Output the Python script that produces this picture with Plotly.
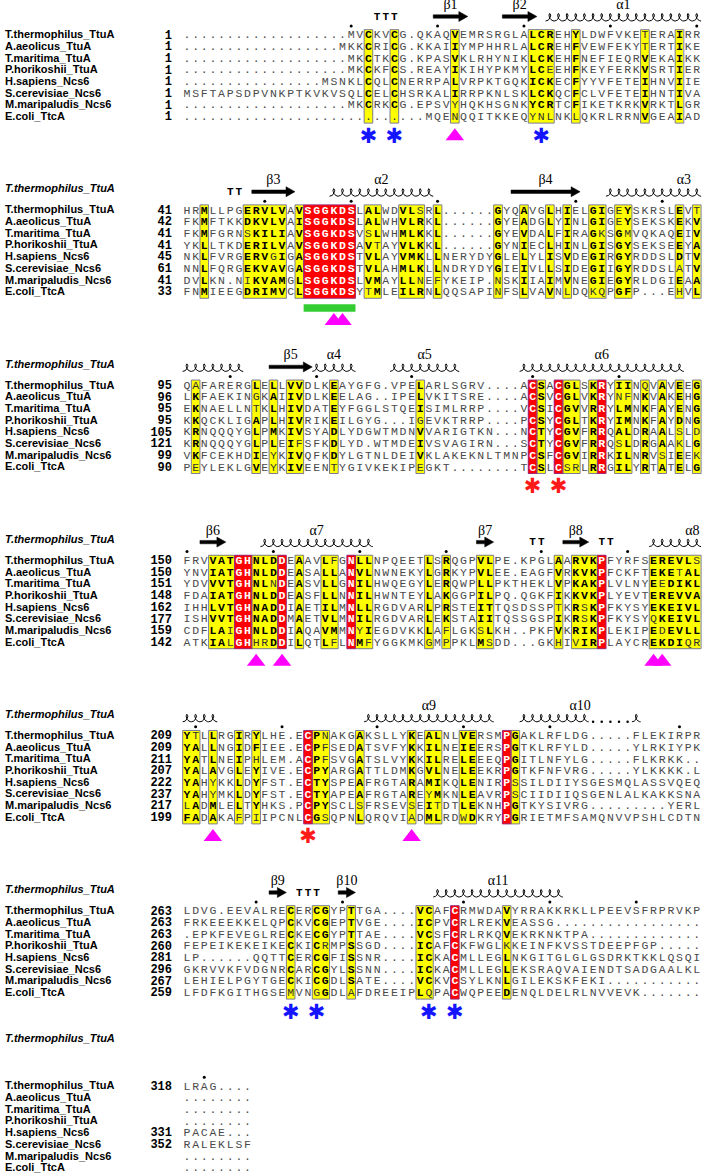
import math
import plotly.graph_objects as go

# ---- alignment data (lowercase = residue drawn in plain type inside a highlighted column)
NAMES = ["T.thermophilus_TtuA", "A.aeolicus_TtuA", "T.maritima_TtuA", "P.horikoshii_TtuA",
         "H.sapiens_Ncs6", "S.cerevisiae_Ncs6", "M.maripaludis_Ncs6", "E.coli_TtcA"]

B1_SEQ = [
    "." * 19 + "MVCKVCG.QKAQVEMRSRGLALCREHYLDWFVKEtERAIRR",
    "." * 18 + "MKKCRICG.KKAIIYMPHHRLALCREHFVEWFEKYtERTIKE",
    "." * 19 + "MKCTKCG.KPASVKLRHYNIKLCKEHFNEFIEQRVEKAIKK",
    "." * 19 + "MKCKFCS.REAYIKIHYPKMYLCeEHFKEYFERKVSRTIER",
    "." * 16 + "MSNKLCQLCNERRPALVRPKTGQKICKECFYYVFETEIHNVIIE",
    "MSFTAPSDPVNKPTKVKVSQLCELCHSRKALIRRPKNLSKLCKQCFCLVFETEIHNTIVA",
    "." * 19 + "MKCRKCG.EPSVyHQKHSGNKYCRTCFIKETKRKVRKTLGR",
    "." * 28 + "MQEnQQITKKEQynlNKlQKRLRRNVGEAIAD",
]
B1_YELLOW = [22, 25, 32, 41, 42, 43, 46, 54, 58]
B1_RED = []

B2_SEQ = [
    "HRMLLPGERVLVAVSGGKDSLALWDVLsRL......GYQAVGLHIELGIGeYSKRSLEVt",
    "FKMFTKKDKVLVAISGGKDSLALWHVLRKL......GYEADGLYINLGIGeYSEKSKEKV",
    "FKMFGRNsKILIAVSGGKDSVsLWHMLKKL......GYEVDALFIRAGkSGmVQKAQEIV",
    "YKLLTKDERILVAVSGGKDSAVtAYVLKKL......GYNIECLHINLGISGYSEKSEEYA",
    "NKLFVRGERVgIGASGGKDSTVLAYVMKLLNERYDYGLELYLISVDEGIRGYRDDSLDTV",
    "NNLFQRGEKVAVGASGGKDSTVLAHMLKLLNDRYDYGIEIVLLSIDEGIIGYRDDSLaTV",
    "DVLKN.NiKVAMGLSGGKDSLVMAYLLnEfYKEIP.nSKIIAIMVNEGIEGYRLDGIEAA",
    "FNMIEEGDRIMVCLSGGKDSYtMLEILRNLQQSAPInFSLVAVNlDQkqPGFP...EhVL",
]
B2_YELLOW = [3, 8, 9, 10, 11, 12, 14, 22, 23, 26, 27, 28, 30, 37, 40, 43, 45, 48, 49, 51, 52, 58, 60]
B2_RED = [15, 16, 17, 18, 19, 20]

B3_SEQ = [
    "QaFARERGLELLVVDLKEAYGFG.VPELARLSGRV....ACSACGLSKRYIINqVAVEEG",
    "LKFAEKINgKAIIVDLKEELAG..IPELVKITSRE....ACSVCGLVKRYnfNKVAKEHG",
    "EKNAELLNtKLHIVDATEYFGGLSTQEISIMLRRP....VCSICGVVRRYLMNKFAYENG",
    "KKQCKLIGAPLHIVRIKEILGYG...IgEVKTRRP....PCSYCGLTKRYIMNKFAYDNG",
    "KRNQQQYGLPMKIVSYADLYDGWTMDNVVARIGTKN...NCTYCGVFRRQALDRAALsLd",
    "KRNQQQYGLPLEIfSFKDLYD.WTMDEIVSVAGIRN...SCTYCGVFRRQsLDRGAAkLG",
    "VKFCEKHDIEyKIVQFKDYLGTNLDEIVKLAKEKNLTMNPCSFCGVIRRKILNRVsIEEk",
    "PeYLEKLGVEyKIVEENtYGIVKEKIPeGKT........TCSLCsrLRRGILYRTATELG",
]
B3_YELLOW = [2, 9, 11, 13, 14, 18, 28, 42, 45, 46, 48, 51, 52, 54, 56, 58, 60]
B3_RED = [41, 44, 49]

B4_SEQ = [
    "FRVVATGHNLDDEAAVLfGNLLNPQEETLSRQGPVLPE.KPGLAARVKPFYRFSEREVLs",
    "YNVIATGHNLDDEASALLANVLNWNEKYLGRKYPVLEE.EAGFVRKVKPFCKFTEKEtAL",
    "YDVVVTGHNLnDEASVLLGNILHWQEGYLERQWPLLPKTHEKLVPKAKPLVLNYEeDIKL",
    "FDAIATGHNLDDEASFLLNNILHWNTEYLAKGGPILPQ.QGKFIKKVKPLYEVTEREVVA",
    "IHHLVTGHNADDIAETILMNLLRGDVARLPRSTEITTQSDSSPtKRsKPFKYSYEKEIVL",
    "ISHVVTGHNADDMAETVLMNILRGDVARLEKSTAIITQSSGSPIKRsKPFKYSYqKEIVL",
    "CDFLAiGHNLDDIAQAVMMNyIEGDVKKLAfLGKsLKH..PKFVKRIKPLEKIPEdEVLL",
    "ATKIAlGHhrDDILQTLfLNMfYGGKMKgMpPKLMsDD...GKhIvIRPLAYCREKDIqr",
]
B4_YELLOW = [4, 5, 6, 9, 10, 11, 14, 17, 18, 21, 22, 29, 31, 35, 36, 44, 46, 47, 48, 55, 56, 57, 58, 59, 60]
B4_RED = [7, 8, 12, 20, 49]

B5_SEQ = [
    "YtLLRGIRYLHE.ECPnAKGAKSLLYKEALNLVERSMPGAKLRFLDG.....FLEKIRPR",
    "YALLNGIDFIEE.ECPfSEDATSVFYKKILNEIEERSPGTKLRFYLD.....YLRKIYPK",
    "YATLNEIPhLEM.ACPfSVGATSLVYKKILRELEEEQPGITLNFYLG.....FLKRKK..",
    "YALAVGLEYIVE.ECPYARGATTLDMKGVLNELEEKRPGTKFNFVRG.....YLKKKK.L",
    "YAHyKKLDYFST.ECTYSPEAFRGTARAMIKQLENIRPsSILDIIYSGESMQLASSVQEQ",
    "YAHyMKLDYFST.ECTYAPEAFRGTAREyMKNLEAVRPsCIIDIIQSGENLALKAKKSNA",
    "lADMLELTYHKS.PCPYSCLsFRSEVsEItDTLEKNHPGTKYSIVRG.........YERL",
    "FADAKAfPiIPCNLCGsQPNLQRQVIaDMLRDwDKRYPGRIETMFSAMQNVVPSHLCDTN",
]
B5_YELLOW = [1, 2, 4, 7, 9, 16, 17, 21, 27, 29, 30, 33, 34, 39]
B5_RED = [15, 38]

B6_SEQ = [
    "LDVG.EEVALRECERCGYPTTGA....VCAFCRMWDAVYRRAKKRKLLPEEVSFRPRVKP",
    "FRKEEEKKELQPCKVCGEPTVGE....ICPVCRLREKVEASSG" + "." * 17,
    ".EPKFEVEGLRECKECGYPTTAE....VCSFCRLRKQVEKRKNKTPA" + "." * 13,
    "FEPEIKEKEIKECKICrMPSSGD....ICAFCKFWGLkKEINFKVSSTDEEPFGP.....",
    "LP......QQTTCERCGFISSNR....ICKACMLLEGLNKGITGLGLGSDRKTKKLQSQI",
    "GKRVVKFVDGNRCARCGYLSSNN....ICKACMLLEGLEKSRAQVAIENDTSADGAALKL",
    "LEHIELPGYTGECKICGDLSATE....VCKVCSYLKNLGILEKSKFEKI" + "." * 11,
    "LFDFKGITHGSEmVNgGDLaFDREEIPLqPACWQPEEDENQLDELRLNVVEVK.......",
]
B6_YELLOW = [13, 16, 17, 20, 28, 29, 38]
B6_RED = [32]

B7_SEQ = ["LRAG....", "........", "........", "........",
          "PACAE...", "RALEKLSF", "........", "........"]
B7_YELLOW = []
B7_RED = []

SEQ_BLOCKS = [B1_SEQ, B2_SEQ, B3_SEQ, B4_SEQ, B5_SEQ, B6_SEQ, B7_SEQ]
YELLOW_COLS = [B1_YELLOW, B2_YELLOW, B3_YELLOW, B4_YELLOW, B5_YELLOW, B6_YELLOW, B7_YELLOW]
RED_COLS = [B1_RED, B2_RED, B3_RED, B4_RED, B5_RED, B6_RED, B7_RED]

# secondary structure of T.thermophilus TtuA (block index, first column, last column)
STRANDS = [("β1", 0, 30, 33), ("β2", 0, 38, 41), ("β3", 1, 9, 13), ("β4", 1, 39, 46),
           ("β5", 2, 11, 15), ("β6", 3, 3, 5), ("β7", 3, 35, 36), ("β8", 3, 45, 47),
           ("β9", 5, 11, 12), ("β10", 5, 19, 20)]
HELICES = [("α1", [(0, 43, 60)]), ("α2", [(1, 18, 29)]), ("α3", [(1, 50, 60), (2, 1, 7)]),
           ("α4", [(2, 16, 20)]), ("α5", [(2, 25, 32)]), ("α6", [(2, 40, 58)]),
           ("α7", [(3, 10, 22)]), ("α8", [(3, 55, 60), (4, 1, 4)]), ("α9", [(4, 22, 36)]),
           ("α10", [(4, 40, 53)]), ("α11", [(5, 30, 44)])]
TURNS = [(0, [23, 24, 25]), (1, [6, 7]), (3, [41, 42]), (3, [49, 50]), (5, [14, 15, 16])]

# marks under the alignment (block, column)
BLUE_STARS = [(0, 22), (0, 25), (0, 42), (5, 13), (5, 16), (5, 29), (5, 32)]
RED_STARS = [(2, 41), (2, 44), (4, 15)]
TRIANGLES = [(0, 32), (1, 18), (1, 19), (3, 9), (3, 12), (3, 55), (3, 56), (4, 4), (4, 27)]
GREEN_BARS = [(1, 15, 20)]

for blk in SEQ_BLOCKS:
    assert len(set(len(s) for s in blk)) == 1, blk

# ---- page geometry (pixels)
W, H = 703, 1173
X_COL1, COL_W = 187, 8.64
Y_ROW1, ROW_H, STEP = 35.5, 11.68, 15
YELLOW, RED = "#ffff00", "#ff0000"
MONO = "Liberation Mono, Courier New, monospace"


def col_x(c):
    return X_COL1 + (c - 1) * COL_W


def row_y(b, r=0):
    return Y_ROW1 + (b * STEP + r) * ROW_H


fig = go.Figure()

# highlighted cells
n_rows = (len(SEQ_BLOCKS) - 1) * STEP + 8
z = [[None] * 60 for _ in range(n_rows)]
for b, (yel, red) in enumerate(zip(YELLOW_COLS, RED_COLS)):
    for r in range(8):
        for c in yel:
            z[b * STEP + r][c - 1] = 1
        for c in red:
            z[b * STEP + r][c - 1] = 2
fig.add_trace(go.Heatmap(x=[col_x(c) for c in range(1, 61)],
                         y=[Y_ROW1 + k * ROW_H for k in range(n_rows)], z=z,
                         colorscale=[[0, YELLOW], [0.5, YELLOW], [0.5, RED], [1, RED]],
                         zmin=1, zmax=2, showscale=False, hoverinfo="skip"))


def runs(cols):
    out = []
    for c in sorted(cols):
        if out and c == out[-1][1] + 1:
            out[-1][1] = c
        else:
            out.append([c, c])
    return out


shapes = []
for b, (yel, red) in enumerate(zip(YELLOW_COLS, RED_COLS)):
    top, bot = row_y(b, 0) - ROW_H / 2, row_y(b, 7) + ROW_H / 2
    for cols, color in ((yel, "#7b7b96"), (red, "#9b2a7a")):
        for a, e in runs(cols):
            shapes.append(dict(type="rect", xref="x", yref="y", x0=col_x(a) - COL_W / 2,
                               x1=col_x(e) + COL_W / 2, y0=top, y1=bot,
                               line=dict(color=color, width=1)))

# residues
styles = {"plain": ("#4a4a4a", "normal"), "soft": ("#333333", "normal"),
          "bold": ("#000000", "bold"), "white": ("#ffffff", "bold")}
cells = {k: ([], [], []) for k in styles}
for b, seqs in enumerate(SEQ_BLOCKS):
    yel, red = set(YELLOW_COLS[b]), set(RED_COLS[b])
    for r, s in enumerate(seqs):
        for i, ch in enumerate(s):
            c = i + 1
            if c in red:
                key = "white"
            elif c in yel:
                key = "bold" if ch.isupper() else "soft"
            else:
                key = "plain"
            cells[key][0].append(col_x(c))
            cells[key][1].append(row_y(b, r))
            cells[key][2].append(ch.upper())
for key, (color, weight) in styles.items():
    xs, ys, ts = cells[key]
    fig.add_trace(go.Scatter(x=xs, y=ys, text=ts, mode="text", hoverinfo="skip",
                             textfont=dict(family=MONO, size=11.5, color=color, weight=weight)))

# names and residue numbers
nx, ny, nt, kx, ky, kt = [], [], [], [], [], []
counts = [0] * 8
for b, seqs in enumerate(SEQ_BLOCKS):
    for r, s in enumerate(seqs):
        nx.append(5)
        ny.append(row_y(b, r))
        nt.append(NAMES[r])
        n = sum(ch != "." for ch in s)
        if n:
            kx.append(172)
            ky.append(row_y(b, r))
            kt.append(str(counts[r] + 1))
        counts[r] += n
fig.add_trace(go.Scatter(x=nx, y=ny, text=nt, mode="text", textposition="middle right",
                         hoverinfo="skip",
                         textfont=dict(family="Liberation Sans, Arial", size=11, color="black",
                                       weight="bold")))
fig.add_trace(go.Scatter(x=kx, y=ky, text=kt, mode="text", textposition="middle left",
                         hoverinfo="skip",
                         textfont=dict(family=MONO, size=12, color="black", weight="bold")))

# block headers (placed higher when the block carries no secondary structure)
ss_blocks = {s[1] for s in STRANDS} | {p[0] for _, ps in HELICES for p in ps}
hb = list(range(1, len(SEQ_BLOCKS)))
fig.add_trace(go.Scatter(x=[5] * len(hb),
                         y=[row_y(b) - (21 if b in ss_blocks else 47) for b in hb],
                         text=[NAMES[0]] * len(hb),
                         mode="text", textposition="middle right", hoverinfo="skip",
                         textfont=dict(family="Liberation Sans, Arial", size=11, color="black",
                                       weight="bold", style="italic")))

# every-ten dots over T.thermophilus numbering
dx, dy = [], []
num = 0
for b, seqs in enumerate(SEQ_BLOCKS):
    for i, ch in enumerate(seqs[0]):
        if ch == ".":
            continue
        num += 1
        if num % 10 == 0 or num == 1:
            dx.append(col_x(i + 1))
            dy.append(row_y(b) - 9.5)
fig.add_trace(go.Scatter(x=dx, y=dy, mode="markers", hoverinfo="skip",
                         marker=dict(size=3, color="black")))

# strands as arrows
lx, ly, lt = [], [], []
for lab, b, c0, c1 in STRANDS:
    x0, x1 = col_x(c0) - COL_W / 2, col_x(c1) + COL_W / 2
    yc = row_y(b) - 19
    hl = min(9, (x1 - x0) * 0.55)
    px = [x0, x1 - hl, x1 - hl, x1, x1 - hl, x1 - hl, x0, x0]
    py = [yc - 1.7, yc - 1.7, yc - 5, yc, yc + 5, yc + 1.7, yc + 1.7, yc - 1.7]
    fig.add_trace(go.Scatter(x=px, y=py, mode="lines", fill="toself", fillcolor="black",
                             line=dict(color="black", width=0.5), hoverinfo="skip"))
    lx.append((col_x(c0) + col_x(c1)) / 2)
    ly.append(row_y(b) - 30)
    lt.append(lab)

# helices as coils
hx, hy, gx, gy = [], [], [], []
for lab, pieces in HELICES:
    total = sum(c1 - c0 + 1 for _, c0, c1 in pieces)
    mid = (total - 1) / 2
    for b, c0, c1 in pieces:
        base = row_y(b) - 14.5
        for c in range(c0, c1 + 1):
            if SEQ_BLOCKS[b][0][c - 1] == ".":
                gx.append(col_x(c))
                gy.append(base)
                hx.append(None)
                hy.append(None)
                continue
            left = col_x(c) - COL_W / 2
            for k in range(21):
                t = 2 * math.pi * k / 20
                hx.append(left + COL_W * t / (2 * math.pi) + 2.6 * math.sin(t))
                hy.append(base - 7.5 * (1 - math.cos(t)) / 2)
        hx.append(None)
        hy.append(None)
        if 0 <= mid <= c1 - c0:
            lx.append(col_x(c0 + mid))
            ly.append(row_y(b) - 30)
            lt.append(lab)
        mid -= c1 - c0 + 1
fig.add_trace(go.Scatter(x=hx, y=hy, mode="lines", line=dict(color="black", width=1),
                         hoverinfo="skip"))
fig.add_trace(go.Scatter(x=gx, y=gy, mode="markers", marker=dict(size=2.5, color="black"),
                         hoverinfo="skip"))
fig.add_trace(go.Scatter(x=lx, y=ly, text=lt, mode="text", hoverinfo="skip",
                         textfont=dict(family="Liberation Serif, Times New Roman", size=14,
                                       color="black")))

# turns
tx, ty = [], []
for b, cols in TURNS:
    for c in cols:
        tx.append(col_x(c))
        ty.append(row_y(b) - 18.5)
fig.add_trace(go.Scatter(x=tx, y=ty, text=["T"] * len(tx), mode="text", hoverinfo="skip",
                         textfont=dict(family=MONO, size=11, color="black", weight="bold")))

# marks below the blocks
bar_blocks = {b for b, _, _ in GREEN_BARS}
for b, c0, c1 in GREEN_BARS:
    yb = row_y(b, 7) + 15.5
    shapes.append(dict(type="rect", xref="x", yref="y", x0=col_x(c0) - COL_W / 2,
                       x1=col_x(c1) + COL_W / 2, y0=yb - 3.8, y1=yb + 3.8,
                       fillcolor="#33cc33", line=dict(width=0)))
fig.add_trace(go.Scatter(x=[col_x(c) for b, c in TRIANGLES],
                         y=[row_y(b, 7) + (28.5 if b in bar_blocks else 19) for b, c in TRIANGLES],
                         mode="markers", hoverinfo="skip",
                         marker=dict(symbol="triangle-up", size=16, color="#ff00ff")))
for stars, color in ((BLUE_STARS, "#1414ff"), (RED_STARS, "#ff1a1a")):
    fig.add_trace(go.Scatter(x=[col_x(c) for b, c in stars], y=[row_y(b, 7) + 20 for b, c in stars],
                             text=["✱"] * len(stars), mode="text", hoverinfo="skip",
                             textfont=dict(family="DejaVu Sans", size=21, color=color)))

fig.update_layout(width=W, height=H, margin=dict(l=0, r=0, t=0, b=0), showlegend=False,
                  plot_bgcolor="white", paper_bgcolor="white", shapes=shapes,
                  xaxis=dict(range=[0, W], visible=False, fixedrange=True),
                  yaxis=dict(range=[H, 0], visible=False, fixedrange=True))
fig.write_html("out.html", config=dict(displayModeBar=False),
               post_script="document.body.style.margin='0px';document.body.style.overflow='hidden';")
